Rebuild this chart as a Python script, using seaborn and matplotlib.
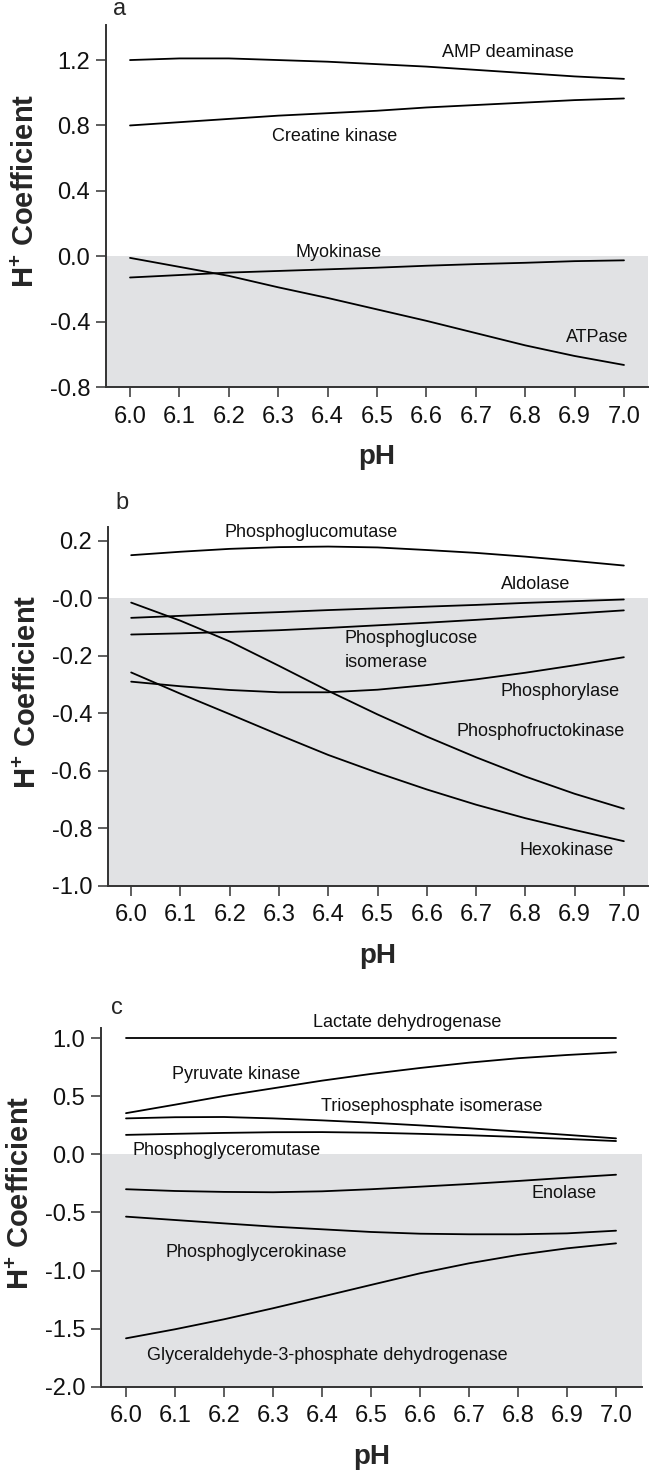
import numpy as np
import pandas as pd
import matplotlib
matplotlib.use("Agg")
import matplotlib.pyplot as plt
import seaborn as sns

# ---------------- data ----------------
ph = [6.0, 6.1, 6.2, 6.3, 6.4, 6.5, 6.6, 6.7, 6.8, 6.9, 7.0]
ph_ticks = [6.0, 6.1, 6.2, 6.3, 6.4, 6.5, 6.6, 6.7, 6.8, 6.9, 7.0]
ph_tick_labels = ["6.0", "6.1", "6.2", "6.3", "6.4", "6.5", "6.6", "6.7", "6.8", "6.9", "7.0"]

# panel a
amp_deaminase = [1.20, 1.21, 1.21, 1.20, 1.19, 1.175, 1.16, 1.14, 1.12, 1.10, 1.085]
creatine_kinase = [0.80, 0.82, 0.84, 0.86, 0.875, 0.89, 0.91, 0.925, 0.94, 0.955, 0.965]
myokinase = [-0.13, -0.115, -0.10, -0.09, -0.08, -0.07, -0.058, -0.048, -0.04, -0.03, -0.025]
atpase = [-0.01, -0.065, -0.12, -0.19, -0.255, -0.325, -0.395, -0.47, -0.545, -0.61, -0.665]
a_yticks = [-0.8, -0.4, 0.0, 0.4, 0.8, 1.2]
a_ytick_labels = ["-0.8", "-0.4", "0.0", "0.4", "0.8", "1.2"]

# panel b
phosphoglucomutase = [0.150, 0.162, 0.172, 0.178, 0.180, 0.177, 0.168, 0.158, 0.145, 0.130, 0.114]
aldolase = [-0.068, -0.061, -0.054, -0.048, -0.041, -0.035, -0.029, -0.023, -0.016, -0.010, -0.004]
phosphoglucose_isomerase = [-0.126, -0.122, -0.117, -0.111, -0.103, -0.094, -0.085, -0.075, -0.064, -0.053, -0.042]
phosphofructokinase = [-0.015, -0.078, -0.150, -0.235, -0.322, -0.404, -0.481, -0.553, -0.620, -0.680, -0.732]
phosphorylase = [-0.290, -0.306, -0.319, -0.327, -0.327, -0.318, -0.302, -0.282, -0.259, -0.233, -0.205]
hexokinase = [-0.258, -0.332, -0.403, -0.475, -0.545, -0.607, -0.665, -0.718, -0.765, -0.806, -0.845]
b_yticks = [-1.0, -0.8, -0.6, -0.4, -0.2, 0.0, 0.2]
b_ytick_labels = ["-1.0", "-0.8", "-0.6", "-0.4", "-0.2", "-0.0", "0.2"]

# panel c
lactate_dehydrogenase = [1.0, 1.0, 1.0, 1.0, 1.0, 1.0, 1.0, 1.0, 1.0, 1.0, 1.0]
pyruvate_kinase = [0.355, 0.428, 0.503, 0.569, 0.635, 0.693, 0.744, 0.790, 0.828, 0.856, 0.879]
triosephosphate_isomerase = [0.310, 0.320, 0.322, 0.310, 0.293, 0.273, 0.250, 0.225, 0.197, 0.168, 0.138]
phosphoglyceromutase = [0.168, 0.177, 0.185, 0.191, 0.192, 0.187, 0.177, 0.165, 0.150, 0.133, 0.115]
enolase = [-0.300, -0.315, -0.323, -0.326, -0.318, -0.300, -0.278, -0.255, -0.229, -0.201, -0.175]
phosphoglycerokinase = [-0.536, -0.565, -0.594, -0.622, -0.645, -0.668, -0.683, -0.688, -0.688, -0.680, -0.657]
gapdh = [-1.584, -1.506, -1.420, -1.325, -1.225, -1.124, -1.024, -0.938, -0.866, -0.809, -0.766]
c_yticks = [-2.0, -1.5, -1.0, -0.5, 0.0, 0.5, 1.0]
c_ytick_labels = ["-2.0", "-1.5", "-1.0", "-0.5", "0.0", "0.5", "1.0"]

# ---------------- style ----------------
sns.set_theme(style="ticks")
plt.rcParams["font.family"] = ["Liberation Sans", "DejaVu Sans"]
plt.rcParams["mathtext.fontset"] = "custom"
plt.rcParams["mathtext.rm"] = "Liberation Sans"
plt.rcParams["mathtext.bf"] = "Liberation Sans:bold"

SPINE = "#333333"
GRAY = "#e1e2e4"
TICK_FS = 17
ANN_FS = 13
LAB_FS = 20

fig = plt.figure(figsize=(6.5, 14.75), dpi=100)

panels = [
    dict(rect=[0.1631, 0.7376, 0.8338, 0.2454], xlim=(5.9514, 7.0486), ylim=(-0.8, 1.414),
         yticks=a_yticks, ylabels=a_ytick_labels, letter="a", letter_xy=(120, 9),
         series=[amp_deaminase, creatine_kinase, myokinase, atpase],
         texts=[("AMP deaminase", 6.765, 1.246, "center"),
                ("Creatine kinase", 6.415, 0.73, "center"),
                ("Myokinase", 6.423, 0.022, "center"),
                ("ATPase", 6.946, -0.50, "center")]),
    dict(rect=[0.1662, 0.3995, 0.8307, 0.2432], xlim=(5.953, 7.049), ylim=(-1.0, 0.248),
         yticks=b_yticks, ylabels=b_ytick_labels, letter="b", letter_xy=(122, 503),
         series=[phosphoglucomutase, aldolase, phosphoglucose_isomerase,
                 phosphofructokinase, phosphorylase, hexokinase],
         texts=[("Phosphoglucomutase", 6.366, 0.228, "center"),
                ("Aldolase", 6.82, 0.048, "center"),
                ("Phosphoglucose", 6.433, -0.140, "left"),
                ("isomerase", 6.433, -0.224, "left"),
                ("Phosphorylase", 6.871, -0.325, "center"),
                ("Phosphofructokinase", 6.832, -0.464, "center"),
                ("Hexokinase", 6.884, -0.876, "center")]),
    dict(rect=[0.1554, 0.0599, 0.8323, 0.2432], xlim=(5.949, 7.053), ylim=(-2.0, 1.089),
         yticks=c_yticks, ylabels=c_ytick_labels, letter="c", letter_xy=(117, 1008),
         series=[lactate_dehydrogenase, pyruvate_kinase, triosephosphate_isomerase,
                 phosphoglyceromutase, enolase, phosphoglycerokinase, gapdh],
         texts=[("Lactate dehydrogenase", 6.573, 1.138, "center"),
                ("Pyruvate kinase", 6.224, 0.684, "center"),
                ("Triosephosphate isomerase", 6.624, 0.411, "center"),
                ("Phosphoglyceromutase", 6.205, 0.03, "center"),
                ("Enolase", 6.894, -0.335, "center"),
                ("Phosphoglycerokinase", 6.266, -0.846, "center"),
                ("Glyceraldehyde-3-phosphate dehydrogenase", 6.41, -1.736, "center")]),
]

for p in panels:
    ax = fig.add_axes(p["rect"])
    ax.set_facecolor("white")
    ax.axhspan(p["ylim"][0], 0.0, color=GRAY, lw=0, zorder=0)
    for s in p["series"]:
        sns.lineplot(x=ph, y=s, ax=ax, color="black", lw=1.3, zorder=3)
    for txt, tx, ty, ha in p["texts"]:
        ax.text(tx, ty, txt, fontsize=ANN_FS, ha=ha, va="center", color="#111111", zorder=4)
    ax.set_xlim(*p["xlim"])
    ax.set_ylim(*p["ylim"])
    ax.set_xticks(ph_ticks)
    ax.set_xticklabels(ph_tick_labels)
    ax.set_yticks(p["yticks"])
    ax.set_yticklabels(p["ylabels"])
    for side in ["top", "right"]:
        ax.spines[side].set_visible(False)
    for side in ["left", "bottom"]:
        ax.spines[side].set_color(SPINE)
        ax.spines[side].set_linewidth(1.4)
        ax.spines[side].set_zorder(5)
    ax.tick_params(axis="both", direction="out", length=7.5, width=1.1, color=SPINE,
                   labelsize=TICK_FS, labelcolor="#111111", pad=4)
    ax.tick_params(axis="x", pad=6)
    ax.set_xlabel("pH", fontsize=LAB_FS, fontweight="bold", labelpad=12)
    ax.set_ylabel(r"H$^{\mathbf{+}}$ Coefficient", fontsize=21, fontweight="bold", labelpad=7)
    ax.yaxis.label.set_y(0.541)
    lx, ly = p["letter_xy"]
    fig.text(lx / 650, 1 - ly / 1475, p["letter"], fontsize=17, ha="center", va="center")

fig.savefig("out.png", dpi=100)
